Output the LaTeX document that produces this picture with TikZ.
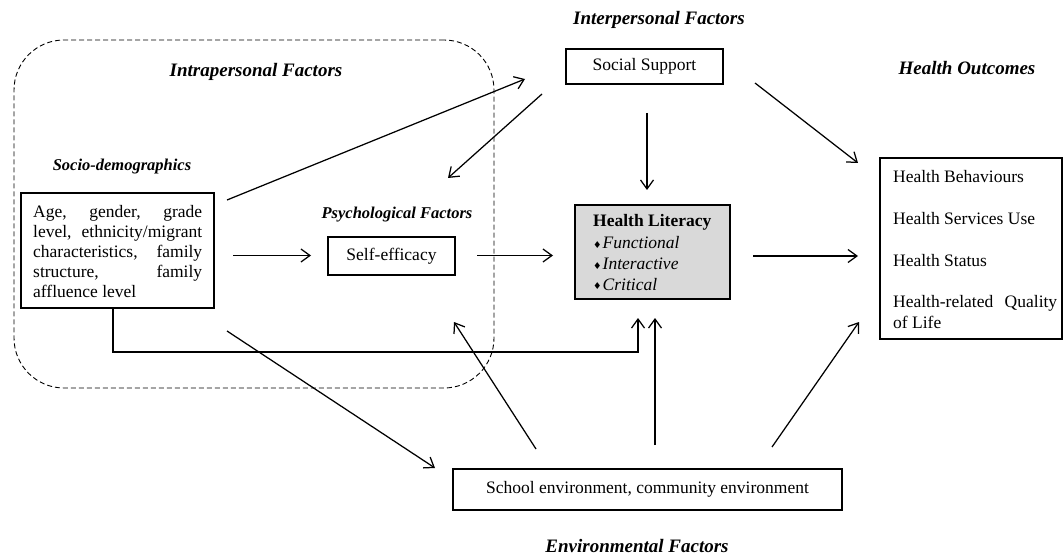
\documentclass[tikz,border=0pt]{standalone}
\usepackage{fontspec}
\setmainfont{Liberation Serif}
\newfontfamily\symfont{DejaVu Sans}
\usetikzlibrary{arrows.meta}
\newcommand{\jline}[2]{\makebox[#1][s]{#2}}
\newcommand{\bul}{{\symfont\fontsize{9.5}{9.5}\selectfont\raisebox{0.5pt}{♦}}\hspace{1pt}}
\begin{document}
\begin{tikzpicture}[x=1pt,y=-1pt,
  body/.style={font=\fontsize{17.5}{20}\selectfont, inner sep=0pt},
  title/.style={font=\fontsize{19}{22}\selectfont\bfseries\itshape, inner sep=0pt},
  subtitle/.style={font=\fontsize{16.5}{20}\selectfont\bfseries\itshape, inner sep=0pt},
  box/.style={draw, line width=1.4pt, inner sep=0pt, font=\fontsize{17.5}{20}\selectfont},
  arr/.style={-{Straight Barb[length=9pt,width=13pt]}, line width=1.25pt},
  group/.style={draw, line width=0.9pt, dash pattern=on 5pt off 3pt, rounded corners=50pt, inner sep=0pt}
]
\useasboundingbox (0,0) rectangle (1063,556);

% intrapersonal group frame
\node[group, minimum width=480pt, minimum height=348pt] (intra) at (254,214) {};

% section titles
\node[title] (tIntra) at (256,72) {Intrapersonal Factors};
\node[title] (tInter) at (659,20) {Interpersonal Factors};
\node[title] (tOut) at (967,68) {Health Outcomes};
\node[title] (tEnv) at (637,546) {Environmental Factors};
\node[subtitle] (tSocio) at (122,167) {Socio-demographics};
\node[subtitle] (tPsy) at (397,215) {Psychological Factors};

% boxes
\node[box, minimum width=193pt, minimum height=115pt] (socio) at (117.5,250.5) {};
\node[box, minimum width=127pt, minimum height=38pt] (self) at (391.5,256) {Self-efficacy};
\node[box, minimum width=157pt, minimum height=35pt] (social) at (644.5,66.5) {Social Support};
\node[box, fill=black!15, minimum width=155pt, minimum height=94pt] (hl) at (652.5,252) {};
\node[box, minimum width=182pt, minimum height=181pt] (ho) at (971,248.5) {};
\node[box, minimum width=389pt, minimum height=41pt] (school) at (647.5,489.5) {School environment, community environment};

% socio-demographic text
\node[body, anchor=base west] (s1) at (33,218) {\jline{169pt}{Age, gender, grade}};
\node[body, anchor=base west] (s2) at (33,237.8) {\jline{169pt}{level, ethnicity/migrant}};
\node[body, anchor=base west] (s3) at (33,257.6) {\jline{169pt}{characteristics, family}};
\node[body, anchor=base west] (s4) at (33,277.4) {\jline{169pt}{structure, family}};
\node[body, anchor=base west] (s5) at (33,297.2) {affluence level};

% health literacy text
\node[body, anchor=base west] (h1) at (593,227) {\textbf{Health Literacy}};
\node[body, anchor=base west] (h2) at (593,249) {\bul\textit{Functional}};
\node[body, anchor=base west] (h3) at (593,269.5) {\bul\textit{Interactive}};
\node[body, anchor=base west] (h4) at (593,290) {\bul\textit{Critical}};

% health outcomes text
\node[body, anchor=base west] (o1) at (893,183) {Health Behaviours};
\node[body, anchor=base west] (o2) at (893,224.5) {Health Services Use};
\node[body, anchor=base west] (o3) at (893,266) {Health Status};
\node[body, anchor=base west] (o4) at (893,307.5) {\jline{164pt}{Health-related Quality}};
\node[body, anchor=base west] (o5) at (893,328) {of Life};

% connector end points
\coordinate (a1s) at (227,200);  \coordinate (a1e) at (525,79);
\coordinate (a2s) at (542,94);   \coordinate (a2e) at (448,178);
\coordinate (a3s) at (647,113);  \coordinate (a3e) at (647,190);
\coordinate (a4s) at (755,83);   \coordinate (a4e) at (858,163);
\coordinate (a5s) at (233,255.5);  \coordinate (a5e) at (311,255.5);
\coordinate (a6s) at (477,255.5);  \coordinate (a6e) at (553,255.5);
\coordinate (a7s) at (753,256);  \coordinate (a7e) at (858,256);
\coordinate (e0) at (113,308);   \coordinate (e1) at (638,352); \coordinate (e2) at (638,318);
\coordinate (a9s) at (227,331);  \coordinate (a9e) at (435,468);
\coordinate (a10s) at (536,449); \coordinate (a10e) at (454,322);
\coordinate (a11s) at (655,445); \coordinate (a11e) at (655,318);
\coordinate (a12s) at (772,447); \coordinate (a12e) at (859,322);

% connectors
\draw[arr] (a1s) -- (a1e);
\draw[arr] (a2s) -- (a2e);
\draw[arr] (a3s) -- (a3e);
\draw[arr] (a4s) -- (a4e);
\draw[arr] (a5s) -- (a5e);
\draw[arr] (a6s) -- (a6e);
\draw[arr] (a7s) -- (a7e);
\draw[arr] (e0) |- (e1) -- (e2);
\draw[arr] (a9s) -- (a9e);
\draw[arr] (a10s) -- (a10e);
\draw[arr] (a11s) -- (a11e);
\draw[arr] (a12s) -- (a12e);
\end{tikzpicture}
\end{document}
